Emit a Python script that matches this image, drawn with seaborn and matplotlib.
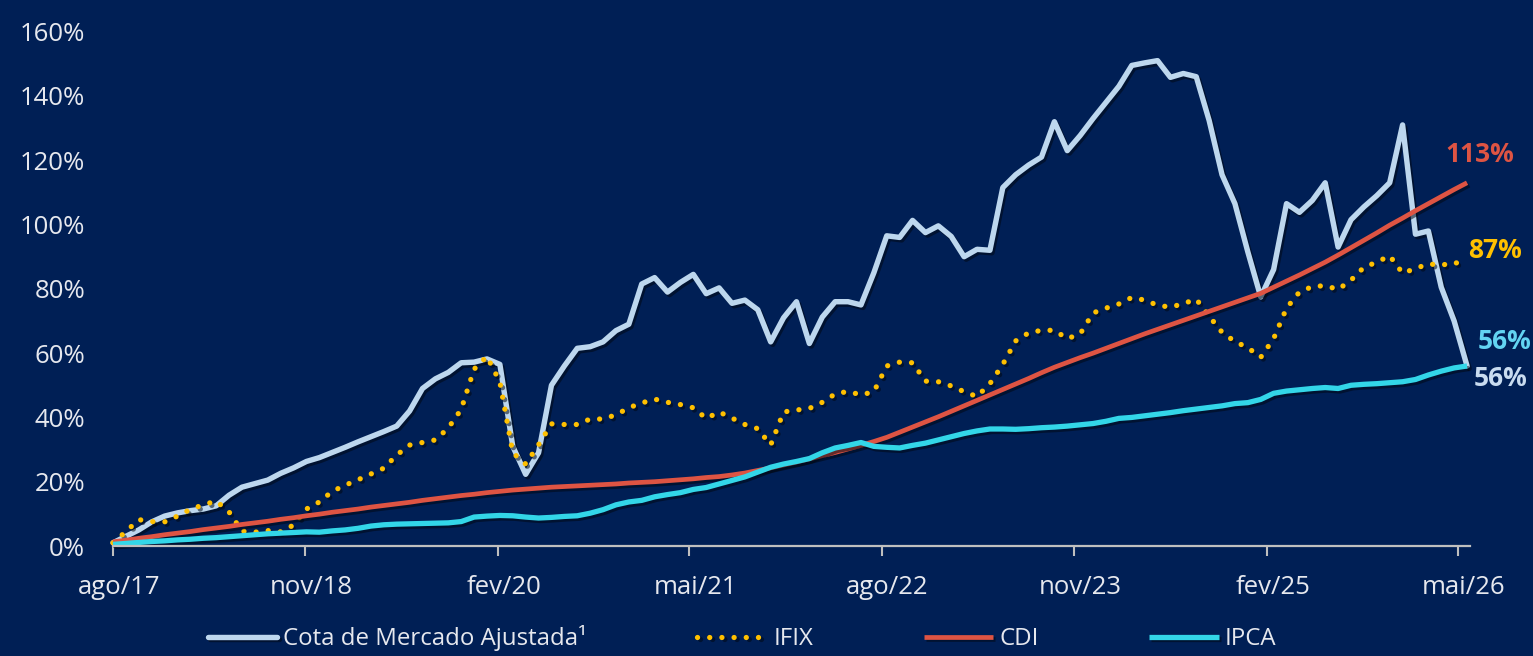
import matplotlib
matplotlib.use("Agg")
import numpy as np
import pandas as pd
import seaborn as sns
import matplotlib.pyplot as plt
import matplotlib.patheffects as pe
import matplotlib.transforms as mtransforms

# ---- data (cumulative return, %) ----
series_names = ["Cota de Mercado Ajustada\u00b9", "IFIX", "CDI", "IPCA"]

cota = [1.0, 3.0, 5.0, 7.5, 9.3, 10.3, 11.0, 11.5, 12.5, 15.8,
        18.3, 19.4, 20.5, 22.6, 24.3, 26.3, 27.5, 29.1, 30.7, 32.4,
        34.0, 35.6, 37.3, 42.0, 49.0, 52.0, 54.0, 57.0, 57.2, 58.2,
        56.5, 31.0, 22.3, 29.0, 50.0, 56.0, 61.5, 62.0, 63.5, 67.0,
        69.0, 81.5, 83.5, 79.0, 82.0, 84.5, 78.5, 80.3, 75.5, 76.5,
        73.5, 63.5, 71.0, 76.0, 63.0, 71.2, 76.0, 76.0, 75.0, 85.0,
        96.5, 96.0, 101.3, 97.5, 99.6, 96.3, 90.0, 92.3, 92.0, 111.5,
        115.5, 118.5, 121.0, 132.0, 123.0, 127.7, 133.0, 138.0, 143.0, 149.5,
        150.3, 151.0, 145.8, 147.0, 146.0, 132.4, 115.5, 106.5, 91.5, 77.5,
        86.0, 106.5, 103.8, 107.5, 113.0, 93.0, 101.5, 105.5, 109.0, 113.0,
        131.0, 97.0, 98.0, 80.5, 70.0, 56.0]

ifix = [1.0, 4.5, 8.2, 7.6, 7.5, 9.3, 11.4, 12.8, 14.0, 10.6,
        4.6, 4.3, 4.8, 4.4, 6.5, 11.5, 13.7, 17.0, 18.9, 20.6,
        22.4, 24.2, 28.3, 31.4, 32.2, 33.0, 36.7, 42.5, 55.0, 59.0,
        51.0, 29.0, 25.5, 31.5, 38.0, 37.8, 37.8, 39.5, 39.5, 40.8,
        43.0, 44.5, 45.7, 44.7, 44.0, 43.0, 39.7, 41.7, 39.8, 37.8,
        36.5, 31.4, 41.7, 42.3, 42.8, 44.7, 47.3, 48.1, 47.0, 48.0,
        56.0, 57.2, 57.0, 51.3, 51.1, 49.8, 48.0, 46.5, 50.5, 56.5,
        63.8, 66.3, 67.1, 67.1, 64.5, 66.0, 72.5, 74.0, 75.3, 77.3,
        76.5, 74.9, 74.3, 75.4, 76.8, 71.5, 66.5, 63.6, 61.7, 58.7,
        64.5, 74.0, 79.0, 80.7, 81.0, 79.8, 82.7, 86.7, 88.3, 90.3,
        84.9, 86.3, 87.8, 87.3, 88.3, 87.0]

cdi = [1.3, 1.8, 2.4, 2.9, 3.5, 4.0, 4.5, 5.1, 5.6, 6.1,
       6.7, 7.2, 7.7, 8.3, 8.8, 9.4, 9.9, 10.5, 11.0, 11.5,
       12.1, 12.6, 13.1, 13.6, 14.2, 14.7, 15.2, 15.7, 16.1, 16.6,
       17.0, 17.4, 17.7, 18.0, 18.3, 18.5, 18.7, 18.9, 19.1, 19.3,
       19.6, 19.8, 20.0, 20.3, 20.6, 20.9, 21.3, 21.6, 22.1, 22.7,
       23.5, 24.3, 25.2, 26.1, 27.1, 28.1, 29.1, 30.2, 31.3, 32.5,
       33.8, 35.4, 37.0, 38.6, 40.2, 41.9, 43.6, 45.3, 47.0, 48.7,
       50.4, 52.1, 53.9, 55.6, 57.1, 58.6, 60.0, 61.5, 63.0, 64.5,
       66.0, 67.4, 68.8, 70.2, 71.6, 73.0, 74.4, 75.8, 77.2, 78.6,
       80.5, 82.4, 84.3, 86.3, 88.3, 90.5, 92.8, 95.1, 97.4, 99.8,
       102.0, 104.3, 106.5, 108.7, 110.9, 113.0]

ipca = [0.5, 0.8, 1.1, 1.4, 1.6, 1.9, 2.1, 2.4, 2.6, 2.9,
        3.2, 3.5, 3.8, 4.0, 4.2, 4.4, 4.3, 4.7, 5.0, 5.5,
        6.2, 6.6, 6.8, 6.9, 7.0, 7.1, 7.2, 7.6, 9.0, 9.3,
        9.5, 9.4, 9.0, 8.7, 8.9, 9.2, 9.4, 10.2, 11.3, 12.8,
        13.7, 14.2, 15.3, 16.0, 16.6, 17.6, 18.2, 19.3, 20.4, 21.5,
        23.0, 24.5, 25.5, 26.3, 27.2, 29.0, 30.5, 31.3, 32.2, 31.0,
        30.7, 30.5, 31.3, 32.0, 33.0, 34.0, 35.0, 35.8, 36.4, 36.4,
        36.3, 36.5, 36.8, 37.0, 37.3, 37.7, 38.1, 38.8, 39.7, 40.0,
        40.5, 41.0, 41.5, 42.1, 42.6, 43.1, 43.6, 44.3, 44.6, 45.6,
        47.5, 48.2, 48.6, 49.0, 49.3, 49.0, 50.0, 50.3, 50.5, 50.8,
        51.1, 51.8, 53.2, 54.4, 55.4, 56.0]

end_labels = ["56%", "87%", "113%", "56%"]

tick_dates = ["2017-08-01", "2018-11-01", "2020-02-01", "2021-05-01",
              "2022-08-01", "2023-11-01", "2025-02-01", "2026-05-01"]
tick_labels = ["ago/17", "nov/18", "fev/20", "mai/21",
               "ago/22", "nov/23", "fev/25", "mai/26"]
y_ticks = [0, 20, 40, 60, 80, 100, 120, 140, 160]
y_tick_labels = [f"{v}%" for v in y_ticks]

# ---- styling ----
BG = "#001F55"
TXT = "#E6E8EE"
AXIS = "#BFBFBF"
C_COTA = "#BDD7EE"
C_IFIX = "#FFC000"
C_CDI = "#DE5443"
C_IPCA = "#33D6E8"
LBL_COLORS = ["#C9DCF0", C_IFIX, C_CDI, "#62D4F2"]

sns.set_theme(style="white")
plt.rcParams["font.family"] = ["Open Sans", "DejaVu Sans"]

dates = pd.date_range("2017-08-01", "2026-05-23", periods=len(cota))
df = pd.DataFrame({"data": dates, "cota": cota, "ifix": ifix,
                   "cdi": cdi, "ipca": ipca})

W, H = 1533, 656
fig = plt.figure(figsize=(W / 100, H / 100), dpi=100, facecolor=BG)
ax = fig.add_axes([113 / W, 110 / H, (1470 - 113) / W, (546 - 31.7) / H])
ax.set_facecolor(BG)

shadow = [pe.SimpleLineShadow(offset=(1.5, -1.8), shadow_color="#000814", alpha=0.55),
          pe.Normal()]

sns.lineplot(data=df, x="data", y="cota", ax=ax, color=C_COTA, linewidth=3.9,
             solid_joinstyle="round", solid_capstyle="round",
             path_effects=shadow, clip_on=False, label=series_names[0])
sns.lineplot(data=df, x="data", y="ifix", ax=ax, color=C_IFIX, linewidth=3.8,
             linestyle=(0, (0.01, 2.3)), dash_capstyle="round",
             path_effects=shadow, clip_on=False, label=series_names[1])
sns.lineplot(data=df, x="data", y="cdi", ax=ax, color=C_CDI, linewidth=3.4,
             solid_capstyle="butt", path_effects=shadow, clip_on=False,
             label=series_names[2])
sns.lineplot(data=df, x="data", y="ipca", ax=ax, color=C_IPCA, linewidth=3.8,
             solid_capstyle="butt", solid_joinstyle="round",
             path_effects=shadow, clip_on=False, label=series_names[3])

ax.set_xlim(pd.Timestamp("2017-08-01"), pd.Timestamp("2026-05-30"))
ax.set_ylim(0, 160)

ax.set_xticks(pd.to_datetime(tick_dates))
ax.set_xticklabels(tick_labels)
ax.set_yticks(y_ticks)
ax.set_yticklabels(y_tick_labels)
ax.set_xlabel("")
ax.set_ylabel("")

for s in ["left", "top", "right"]:
    ax.spines[s].set_visible(False)
ax.spines["bottom"].set_color(AXIS)
ax.spines["bottom"].set_linewidth(1.6)

ax.tick_params(axis="x", direction="out", length=7, width=1.5, color=AXIS,
               pad=14, labelsize=18.5, labelcolor=TXT, bottom=True)
ax.tick_params(axis="y", length=0, pad=20, labelsize=18.5, labelcolor=TXT)
shift = mtransforms.ScaledTranslation(6 / 100, 0, fig.dpi_scale_trans)
for lab in ax.get_xticklabels():
    lab.set_transform(lab.get_transform() + shift)

# end-of-series value labels
end_x = dates[-1]
ends = [cota[-1], ifix[-1], cdi[-1], ipca[-1]]
offsets = [(7, -13), (1, 16), (-22, 28), (11, 24)]
for txt, val, off, col in zip(end_labels, ends, offsets, LBL_COLORS):
    ax.annotate(txt, xy=(end_x, val), xytext=off, textcoords="offset pixels",
                ha="left", va="center", color=col, fontsize=19,
                fontweight="bold", annotation_clip=False)

handles, labels = ax.get_legend_handles_labels()
if ax.get_legend() is not None:
    ax.get_legend().remove()
fig.legend(handles, labels, loc="center", bbox_to_anchor=(0.484, 0.027),
           ncol=4, frameon=False, fontsize=17.3, handlelength=2.9,
           handletextpad=0.25, columnspacing=4.6, labelcolor=TXT)

fig.savefig("out.png", dpi=100, facecolor=BG)
